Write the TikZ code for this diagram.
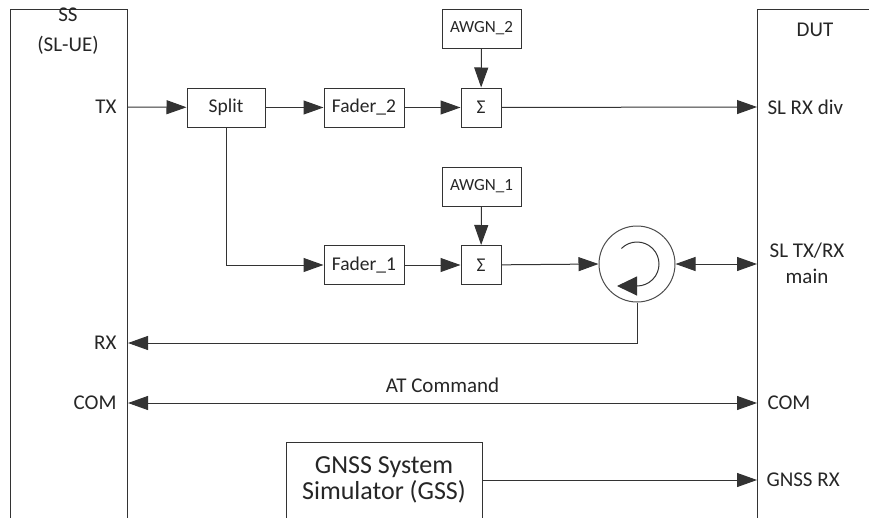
\documentclass[tikz,border=0pt]{standalone}
\usepackage{fontspec}
\setmainfont{Carlito}
\usetikzlibrary{arrows.meta}

\begin{document}
\begin{tikzpicture}[x=1pt, y=-1pt, line width=1pt,
  every node/.style={align=center, font=\fontsize{21}{26}\selectfont, text=black!85},
  lbl/.style={inner sep=0pt},
  blk/.style={draw=black!80, fill=white, inner sep=0pt, minimum height=39pt, font=\fontsize{19.5}{23}\selectfont},
  noise/.style={blk, minimum width=79pt, font=\fontsize{17}{20}\selectfont},
  arr/.style={draw=black!80, -{Triangle[length=20pt,width=14pt]}},
  darr/.style={draw=black!80, {Triangle[length=20pt,width=14pt]}-{Triangle[length=20pt,width=14pt]}}]
  \useasboundingbox (0,0) rectangle (869,517);
  \clip (0,0) rectangle (869,517);

  % Test system and device under test
  \node[draw=black!80, minimum width=117pt, minimum height=540pt, anchor=north west, inner sep=0pt] (ss) at (10,9) {};
  \node[lbl, font=\fontsize{21}{30}\selectfont] (sslbl) at (68,31) {SS\\(SL-UE)};
  \node[draw=black!80, minimum width=140pt, minimum height=540pt, anchor=north west, inner sep=0pt] (dut) at (757,9) {};
  \node[lbl] (dutlbl) at (815,30) {DUT};

  % Ports on the SS side
  \node[lbl, anchor=east] (ptx) at (117,107) {TX};
  \node[lbl, anchor=east] (prx) at (117,343) {RX};
  \node[lbl, anchor=east] (pcoml) at (117,403) {COM};

  % Ports on the DUT side
  \node[lbl, anchor=west] (pdiv) at (767,107) {SL RX div};
  \node[lbl] (pmain) at (807,263) {SL TX/RX\\main};
  \node[lbl, anchor=west] (pcomr) at (767,403) {COM};
  \node[lbl, anchor=west] (pgnss) at (766,480) {GNSS RX};

  % Diversity branch
  \node[blk, minimum width=78pt] (split) at (226,107.5) {Split};
  \node[blk, minimum width=80pt] (fad2) at (364,107.5) {Fader\_2};
  \node[blk, minimum width=40pt] (sum2) at (481,107.5) {Σ};
  \node[noise] (awgn2) at (481.5,28.5) {AWGN\_2};

  % Main branch
  \node[blk, minimum width=80pt] (fad1) at (364,265) {Fader\_1};
  \node[blk, minimum width=40pt] (sum1) at (481,265) {Σ};
  \node[noise] (awgn1) at (481.5,186.5) {AWGN\_1};
  \node[draw=black!70, circle, minimum size=76pt, inner sep=0pt] (circ) at (637,264) {};
  \draw[black!80, -{Triangle[length=20pt,width=19pt]}] ([shift={(225:22)}]circ.center) arc[start angle=225, end angle=450, radius=22] -- ++(-20,0);

  % GNSS
  \node[blk, minimum width=196pt, minimum height=76pt, font=\fontsize{26}{26}\selectfont] (gss) at (384,480) {GNSS System\\Simulator (GSS)};

  % Connections
  \draw[arr] (ptx -| ss.east) -- (split);
  \draw[arr] (split) -- (fad2);
  \draw[arr] (fad2) -- (sum2);
  \draw[arr] (awgn2) -- (sum2);
  \draw[arr] (sum2) -- (pdiv -| dut.west);
  \draw[arr] (split.south) |- (fad1.west);
  \draw[arr] (fad1) -- (sum1);
  \draw[arr] (awgn1) -- (sum1);
  \draw[arr] (sum1) -- (circ.west);
  \draw[darr] (circ.east) -- (circ -| dut.west);
  \draw[arr] (circ.south) |- (prx -| ss.east);
  \draw[darr] (pcoml -| ss.east) -- node[lbl, above, yshift=10pt] (atcmd) {AT Command} (pcomr -| dut.west);
  \draw[arr] (gss.east) -- (gss -| dut.west);
\end{tikzpicture}
\end{document}
